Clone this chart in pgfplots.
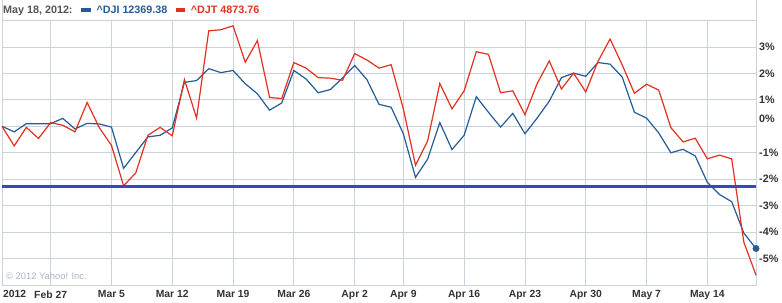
\documentclass[border=0pt]{standalone}
\usepackage{fontspec}
\setmainfont{Liberation Sans}
\usepackage{pgfplots}
\pgfplotsset{compat=1.18}
\definecolor{gridc}{HTML}{C9D3DD}
\definecolor{djiblue}{HTML}{265C96}
\definecolor{djtred}{HTML}{E2321F}
\definecolor{hlinec}{HTML}{3B44C6}
\definecolor{txtgray}{HTML}{555555}
\definecolor{tickc}{HTML}{333333}
\definecolor{copyc}{HTML}{A8B6C4}
\begin{document}
\begin{tikzpicture}[x=1bp,y=1bp]
\useasboundingbox[fill=white] (0,0) rectangle (782,302);
\begin{axis}[
  at={(2bp,17bp)}, anchor=south west, scale only axis,
  width=754bp, height=264.5bp,
  xmin=0, xmax=62, ymin=-6, ymax=4,
  clip=false,
  xtick={4,9,14,19,24,29,33,38,43,48,53,58},
  xticklabels={Feb 27,Mar 5,Mar 12,Mar 19,Mar 26,Apr 2,Apr 9,Apr 16,Apr 23,Apr 30,May 7,May 14},
  ytick={-6,-5,-4,-3,-2,-1,0,1,2,3,4},
  yticklabels={},
  extra y ticks={-5,-4,-3,-2,-1,0.27,1,2,3},
  extra y tick labels={-5\%,-4\%,-3\%,-2\%,-1\%,0\%,1\%,2\%,3\%},
  extra y tick style={grid=none, major tick length=0},
  grid=major,
  grid style={gridc, line width=0.8bp},
  axis line style={gridc, line width=0.8bp},
  major tick length=0,
  yticklabel pos=right,
  xticklabel style={anchor=north, inner sep=0pt, yshift=-5.5bp, text=tickc, font=\bfseries\fontsize{10.4}{12}\selectfont},
  yticklabel style={anchor=west, inner sep=0pt, xshift=3bp, text=tickc, font=\bfseries\fontsize{10.8}{12}\selectfont},
]
\node[anchor=base west, inner sep=0pt, text=copyc, font=\fontsize{9.4}{11}\selectfont] at (rel axis cs:0,0) [xshift=4bp, yshift=5.5bp] {© 2012 Yahoo! Inc.};
\node[anchor=north west, inner sep=0pt, text=tickc, font=\bfseries\fontsize{10.4}{12}\selectfont] at (rel axis cs:0,0) [xshift=1bp, yshift=-5.5bp] {2012};
\draw[gridc, line width=0.8bp] (rel axis cs:0,1) -- ++(0,19.5bp) -| (rel axis cs:1,1);

\addplot[djiblue, line width=1.2bp] coordinates {
(0,0.00) (1,-0.21) (2,0.10) (3,0.10) (4,0.10) (5,0.30) (6,-0.10) (7,0.11) (8,0.09) (9,-0.03)
(10,-1.59) (11,-0.99) (12,-0.40) (13,-0.34) (14,-0.06) (15,1.66) (16,1.73) (17,2.18) (18,2.03) (19,2.11)
(20,1.61) (21,1.23) (22,0.61) (23,0.88) (24,2.11) (25,1.79) (26,1.27) (27,1.39) (28,1.83) (29,2.30)
(30,1.77) (31,0.83) (32,0.72) (33,-0.28) (34,-1.93) (35,-1.24) (36,0.14) (37,-0.88) (38,-0.34) (39,1.12)
(40,0.53) (41,-0.03) (42,0.49) (43,-0.28) (44,0.31) (45,0.95) (46,1.84) (47,2.01) (48,1.89) (49,2.41)
(50,2.35) (51,1.86) (52,0.53) (53,0.31) (54,-0.25) (55,-1.00) (56,-0.87) (57,-1.12) (58,-2.12) (59,-2.58)
(60,-2.85) (61,-4.04) (62,-4.62)
};
\addplot[djtred, line width=1.2bp] coordinates {
(0,0.00) (1,-0.74) (2,-0.04) (3,-0.46) (4,0.14) (5,0.04) (6,-0.21) (7,0.90) (8,-0.05) (9,-0.72)
(10,-2.25) (11,-1.76) (12,-0.34) (13,-0.04) (14,-0.36) (15,1.77) (16,0.31) (17,3.61) (18,3.65) (19,3.80)
(20,2.42) (21,3.24) (22,1.09) (23,1.05) (24,2.41) (25,2.20) (26,1.84) (27,1.82) (28,1.74) (29,2.75)
(30,2.51) (31,2.20) (32,2.33) (33,0.66) (34,-1.47) (35,-0.55) (36,1.62) (37,0.66) (38,1.34) (39,2.82)
(40,2.72) (41,1.27) (42,1.34) (43,0.44) (44,1.61) (45,2.47) (46,1.41) (47,2.01) (48,1.30) (49,2.45)
(50,3.30) (51,2.32) (52,1.25) (53,1.59) (54,1.37) (55,-0.05) (56,-0.59) (57,-0.45) (58,-1.23) (59,-1.09)
(60,-1.23) (61,-4.38) (62,-5.63)
};
\addplot[hlinec, line width=3.2bp] coordinates {(0,-2.29) (62,-2.29)};
\addplot[only marks, mark=*, mark size=3.2bp, djiblue] coordinates {(62,-4.62)};
\end{axis}
\fill[djiblue] (81,289.5) rectangle (90.7,294);
\fill[djtred] (175.7,289.5) rectangle (185.3,294);
\node[anchor=base west, inner sep=0pt, text=txtgray, font=\bfseries\fontsize{10.8}{12}\selectfont] at (3,288.7) {May 18, 2012:};
\node[anchor=base west, inner sep=0pt, text=djiblue, font=\bfseries\fontsize{10.8}{12}\selectfont] at (96.3,288.7) {\^{}DJI 12369.38};
\node[anchor=base west, inner sep=0pt, text=djtred, font=\bfseries\fontsize{10.8}{12}\selectfont] at (190.7,288.7) {\^{}DJT 4873.76};
\end{tikzpicture}
\end{document}
